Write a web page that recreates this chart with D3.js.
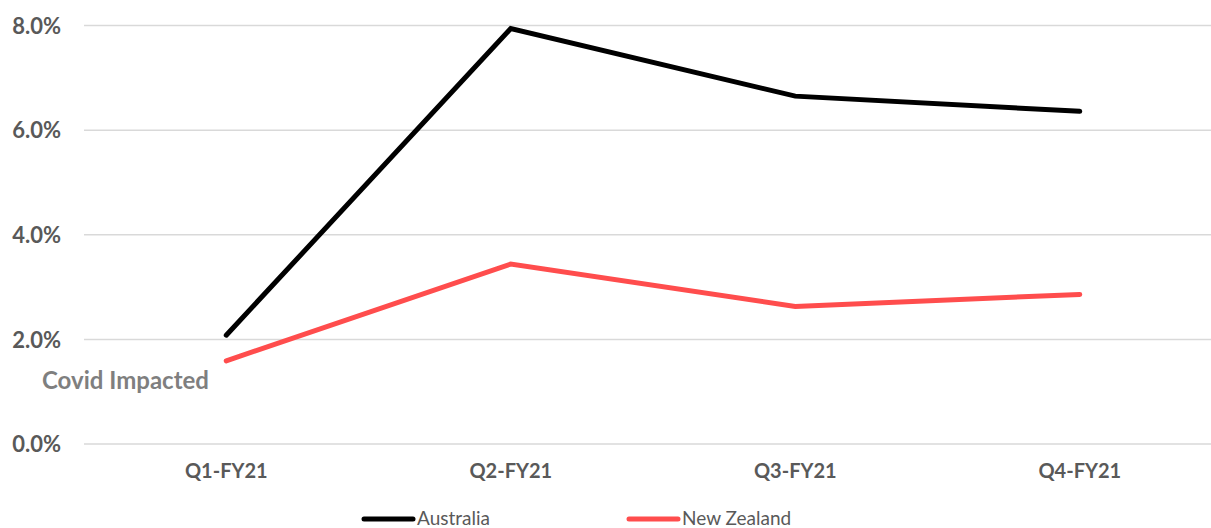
<!DOCTYPE html>
<html><head><meta charset="utf-8">
<script src="https://cdn.jsdelivr.net/npm/d3@7"></script>
<style>body{margin:0;background:#fff;}svg{display:block;}text{font-family:Lato,"Open Sans",sans-serif;}</style>
</head><body><svg id="c" width="1211" height="528"></svg>
<script>
const categories = ["Q1-FY21","Q2-FY21","Q3-FY21","Q4-FY21"];
const australia = [2.08, 7.94, 6.65, 6.36];
const newZealand = [1.59, 3.44, 2.63, 2.86];
const yTicks = [0, 2, 4, 6, 8];
const seriesNames = ["Australia","New Zealand"];
const seriesColors = ["#000000","#ff4d4d"];

const svg = d3.select("#c");
const x = d3.scaleBand().domain(categories).range([84, 1222]);
const y = d3.scaleLinear().domain([0, 8]).range([444, 25.5]);

// gridlines
svg.append("g").selectAll("line").data(yTicks).join("line")
  .attr("x1", 84).attr("x2", 1222)
  .attr("y1", d => y(d)).attr("y2", d => y(d))
  .attr("stroke", "#d9d9d9").attr("stroke-width", 1.5);

// y labels
const yAxis = d3.axisLeft(y).tickValues(yTicks).tickFormat(d => d.toFixed(1) + "%").tickSize(0).tickPadding(0);
const ya = svg.append("g").attr("transform", "translate(61,0)").call(yAxis);
ya.select(".domain").remove();
ya.selectAll("text").attr("font-size", 22).attr("font-weight", "bold").attr("fill", "#595959")
  .style("font-family", "Lato").attr("dy", "0.35em");

// x labels
const xAxis = d3.axisBottom(x).tickSize(0).tickPadding(0);
const xa = svg.append("g").attr("transform", "translate(0,464)").call(xAxis);
xa.select(".domain").remove();
xa.selectAll("text").attr("font-size", 20).attr("font-weight", "bold").attr("fill", "#595959")
  .style("font-family", "Lato").attr("dy", "0.71em");

const line = d3.line().x((d, i) => x(categories[i]) + x.bandwidth() / 2).y(d => y(d));
[australia, newZealand].forEach((s, k) => {
  svg.append("path").datum(s).attr("d", line).attr("fill", "none")
    .attr("stroke", seriesColors[k]).attr("stroke-width", 5)
    .attr("stroke-linecap", "round").attr("stroke-linejoin", "miter");
});

// annotation
svg.append("text").attr("x", 42).attr("y", 389).text("Covid Impacted")
  .attr("font-size", 24).attr("font-weight", "bold").attr("fill", "#7f7f7f");

// legend
const legX = [364, 629];
seriesNames.forEach((n, k) => {
  svg.append("line").attr("x1", legX[k]).attr("x2", legX[k] + 49).attr("y1", 519).attr("y2", 519)
    .attr("stroke", seriesColors[k]).attr("stroke-width", 5).attr("stroke-linecap", "round");
  svg.append("text").attr("x", legX[k] + 53).attr("y", 525).text(n)
    .attr("font-size", 19).attr("fill", "#595959");
});
</script></body></html>
